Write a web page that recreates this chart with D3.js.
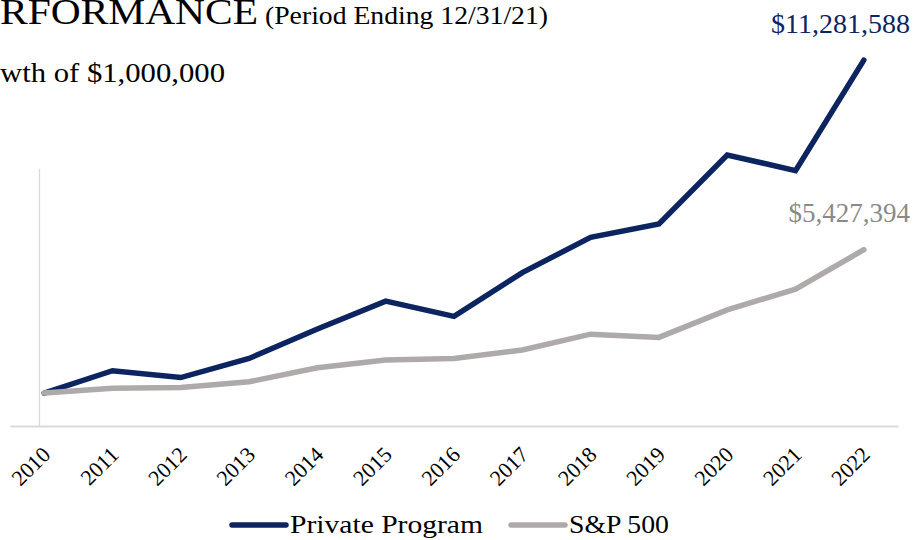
<!DOCTYPE html>
<html><head><meta charset="utf-8">
<script src="https://cdn.jsdelivr.net/npm/d3@7"></script>
<style>
html,body{margin:0;padding:0;background:#fff;}
svg{display:block;font-family:"Liberation Serif","Times New Roman",serif;}
</style></head>
<body>
<svg id="chart" width="914" height="540"></svg>
<script>
const years = ["2010","2011","2012","2013","2014","2015","2016","2017","2018","2019","2020","2021","2022"];
const privateProgram = [1000000,1690000,1480000,2070000,2980000,3840000,3370000,4720000,5810000,6220000,8350000,7870000,11281588];
const sp500 = [1000000,1150000,1170000,1350000,1780000,2020000,2070000,2330000,2820000,2720000,3570000,4210000,5427394];
const seriesNames = ["Private Program","S&P 500"];
const colors = ["#0c2560","#aeaaaa"];
const labelColors = ["#0c2560","#8a8a8a"];

const svg = d3.select("#chart");
const x = d3.scalePoint().domain(years).range([10, 898]).padding(0.5);
const y = d3.scaleLinear().domain([0, 12000000]).range([425.5, 36.8]);

// vertical reference line
svg.append("line").attr("x1",39.5).attr("x2",39.5).attr("y1",169).attr("y2",426)
  .attr("stroke","#d9d9d9").attr("stroke-width",1.3);

const xAxis = svg.append("g").attr("transform","translate(0,426)")
  .call(d3.axisBottom(x).tickSize(0).tickPadding(0));
xAxis.select(".domain").attr("stroke","#d9d9d9").attr("stroke-width",2);
xAxis.selectAll("text")
  .attr("text-anchor","end")
  .attr("font-family","Liberation Serif, serif")
  .attr("font-size",22)
  .attr("fill","#000")
  .attr("dy",0)
  .attr("transform","translate(7,30) rotate(-45)");

const line = d3.line().x((d,i)=>x(years[i])).y(d=>y(d));
[privateProgram, sp500].forEach((s,k)=>{
  svg.append("path").datum(s).attr("d", line)
    .attr("fill","none").attr("stroke",colors[k]).attr("stroke-width",5.5)
    .attr("stroke-linejoin","miter").attr("stroke-linecap","round");
});

const fmt = d3.format("$,");
svg.append("text").attr("x",910).attr("y",33).attr("text-anchor","end")
  .attr("font-size",28).attr("fill",labelColors[0]).text(fmt(privateProgram[12]));
svg.append("text").attr("x",910).attr("y",222).attr("text-anchor","end")
  .attr("font-size",27).attr("fill",labelColors[1]).text(fmt(sp500[12]));

// title (cropped as in the reference)
svg.append("text").attr("x",0).attr("y",24).attr("font-size",35)
  .attr("textLength",258).attr("lengthAdjust","spacingAndGlyphs").text("RFORMANCE");
svg.append("text").attr("x",265).attr("y",24).attr("font-size",25)
  .attr("textLength",283).attr("lengthAdjust","spacingAndGlyphs").text("(Period Ending 12/31/21)");
svg.append("text").attr("x",0).attr("y",82).attr("font-size",28)
  .attr("textLength",225).attr("lengthAdjust","spacingAndGlyphs").text("wth of $1,000,000");

// legend
const legend = svg.append("g");
const lx = [232, 511];
const lw = [193, 100];
seriesNames.forEach((n,k)=>{
  legend.append("line").attr("x1",lx[k]).attr("x2",lx[k]+54).attr("y1",525).attr("y2",525)
    .attr("stroke",colors[k]).attr("stroke-width",5.5).attr("stroke-linecap","round");
  legend.append("text").attr("x",lx[k]+58).attr("y",533).attr("font-size",26)
    .attr("textLength",lw[k]).attr("lengthAdjust","spacingAndGlyphs").text(n);
});
</script>
</body></html>
